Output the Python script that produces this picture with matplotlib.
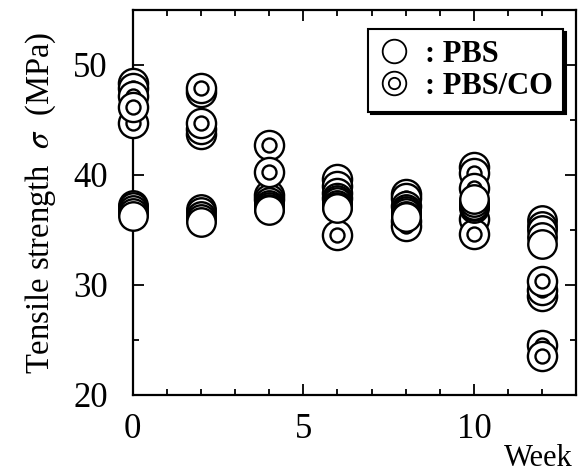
import matplotlib
matplotlib.use("Agg")
import matplotlib.pyplot as plt
from matplotlib.path import Path
from matplotlib.lines import Line2D
from matplotlib.ticker import MultipleLocator

plt.rcParams['font.family'] = ['Liberation Serif', 'DejaVu Serif']
plt.rcParams['mathtext.fontset'] = 'stix'

#---------------------------------------------------
# data (drawing order kept)
#---------------------------------------------------
weeks = [0, 2, 4, 6, 8, 10, 12]

pbs_values = [
    [37.3, 37.1, 36.8, 36.5, 36.3],
    [36.9, 36.6, 36.3, 36.0, 35.7],
    [37.5, 37.3, 37.1, 36.9, 36.8],
    [37.7, 37.5, 37.3, 37.1, 37.0],
    [36.9, 36.7, 36.5, 36.3, 36.2],
    [37.0, 37.2, 37.3, 37.5, 37.8],
    [35.9, 35.4, 35.0, 34.4, 33.7],
]

pbs_co_values = [
    [48.4, 47.9, 47.2, 44.7, 46.2],
    [47.5, 47.9, 43.7, 44.2, 44.7],
    [38.2, 37.8, 42.7, 40.3],
    [39.6, 39.0, 38.4, 37.9, 34.5],
    [38.3, 37.9, 37.2, 35.8, 35.4],
    [40.7, 40.2, 38.8, 36.0, 34.6],
    [29.0, 29.5, 30.4, 24.5, 23.5],
]

x_ticks = [0, 5, 10]
y_ticks = [20, 30, 40, 50]

# double circle marker: one path, filled white, both rings stroked
ring = Path.make_compound_path(Path.unit_circle(), Path.circle((0, 0), 0.48))


def flatten(groups):
    xs, ys = [], []
    for w, vals in zip(weeks, groups):
        for v in vals:
            xs.append(w)
            ys.append(v)
    return xs, ys


fig = plt.figure(figsize=(5.85, 4.73), dpi=100)
ax = fig.add_axes([0.227, 0.165, 0.758, 0.814])

x_co, y_co = flatten(pbs_co_values)
x_p, y_p = flatten(pbs_values)

ax.plot(x_co, y_co, ls='none', marker=ring, ms=21, mfc='white', mec='black',
        mew=1.7, clip_on=False, zorder=3)
ax.plot(x_p, y_p, ls='none', marker='o', ms=20.5, mfc='white', mec='black',
        mew=1.7, clip_on=False, zorder=4)

ax.set_xlim(0, 13)
ax.set_ylim(20, 55)
ax.set_xticks(x_ticks)
ax.set_yticks(y_ticks)
ax.xaxis.set_minor_locator(MultipleLocator(1))
ax.yaxis.set_minor_locator(MultipleLocator(5))
ax.tick_params(which='both', direction='in', top=True, right=True, width=1.3)
ax.tick_params(which='major', length=8, labelsize=25)
ax.tick_params(axis='y', which='major', pad=18)
ax.tick_params(axis='x', which='major', pad=13)
ax.tick_params(which='minor', length=4.5)
for s in ax.spines.values():
    s.set_linewidth(1.6)

ax.set_ylabel(r"Tensile strength  $\sigma$  (MPa)", fontsize=23.5, labelpad=11)
fig.text(0.978, 0.0, "Week", fontsize=22, ha='right', va='bottom')

h_pbs = Line2D([], [], ls='none', marker='o', ms=17, mfc='white', mec='black', mew=1.3)
h_co = Line2D([], [], ls='none', marker=ring, ms=17, mfc='white', mec='black', mew=1.3)
leg = ax.legend([h_pbs, h_co], [": PBS", ": PBS/CO"], loc='upper right',
                bbox_to_anchor=(0.971, 0.950), frameon=True, fancybox=False,
                shadow={'color': 'black', 'alpha': 1},
                prop={'weight': 'bold', 'size': 22}, handlelength=1.0,
                handletextpad=0.5, labelspacing=0.1, borderpad=0.35,
                borderaxespad=0)
leg.get_frame().set_edgecolor('black')
leg.get_frame().set_linewidth(1.5)

fig.savefig("out.png", dpi=100, facecolor='white')
